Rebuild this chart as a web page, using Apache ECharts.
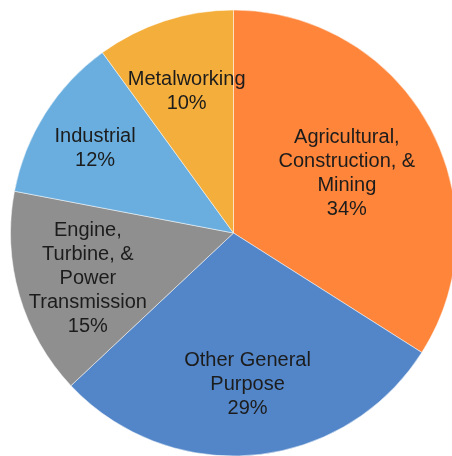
<!DOCTYPE html>
<html>
<head>
<meta charset="utf-8">
<script src="https://cdn.jsdelivr.net/npm/echarts@6/dist/echarts.min.js"></script>
<style>
  html, body { margin: 0; padding: 0; background: #fff; }
  #chart { width: 452px; height: 456px; }
</style>
</head>
<body>
<div id="chart"></div>
<script>
const names = [
    'Agricultural,\nConstruction, &\nMining',
    'Other General\nPurpose',
    'Engine,\nTurbine, &\nPower\nTransmission',
    'Industrial',
    'Metalworking'
];
const shares = [34, 29, 15, 12, 10];
const colors = ['#FE853A', '#5386C8', '#8F8F8F', '#69AEDF', '#F4AE3B'];
// how far out each label sits, as a share of the radius
const labelDist = [0.58, 0.67, 0.68, 0.735, 0.68];

const cx = 233.5, cy = 233, radius = 223;

document.addEventListener("DOMContentLoaded", () => {
    const chart = echarts.init(document.getElementById('chart'));
    const total = shares.reduce((a, b) => a + b, 0);

    // mid angle of each slice, clockwise from the top
    const mids = [];
    let acc = 0;
    shares.forEach(v => {
        mids.push((acc + v / 2) / total * 2 * Math.PI);
        acc += v;
    });

    chart.setOption({
        animation: false,
        series: [{
            type: 'pie',
            center: [cx, cy],
            radius: radius,
            startAngle: 90,
            clockwise: true,
            data: names.map((n, i) => ({
                name: n,
                value: shares[i],
                itemStyle: { color: colors[i] }
            })),
            itemStyle: { borderColor: 'rgba(255,255,255,0.7)', borderWidth: 0.7 },
            label: {
                position: 'inside',
                formatter: '{b}\n{c}%',
                fontFamily: 'Liberation Sans, Arial, sans-serif',
                fontSize: 20,
                lineHeight: 24,
                color: '#1c1c1c',
                align: 'center',
                verticalAlign: 'middle'
            },
            labelLine: { show: false },
            emphasis: { disabled: true },
            labelLayout: params => {
                const a = mids[params.dataIndex];
                const d = radius * labelDist[params.dataIndex];
                return {
                    x: cx + d * Math.sin(a),
                    y: cy - d * Math.cos(a) + 3
                };
            }
        }]
    });
});
</script>
</body>
</html>
